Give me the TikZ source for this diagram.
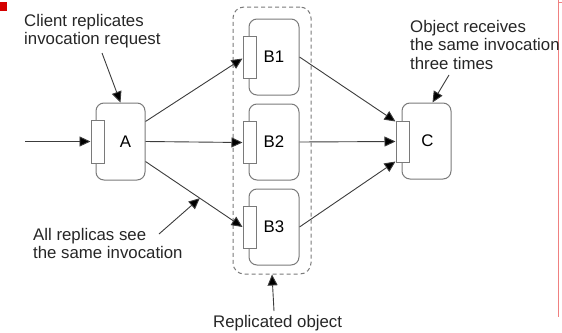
\documentclass[tikz,border=0pt]{standalone}
\usepackage{fontspec}
\setmainfont{Liberation Sans}
\usetikzlibrary{arrows.meta,calc}

\definecolor{edgegray}{HTML}{7A7A7A}
\definecolor{linegray}{HTML}{3C3C3C}
\definecolor{markred}{HTML}{D40000}
\definecolor{rulered}{HTML}{F08080}

\tikzset{
  objbox/.style={draw=edgegray, line width=1pt, rounded corners=8pt, fill=white,
    minimum width=#1, minimum height=76pt, inner sep=0pt,
    font=\fontsize{16.8}{18.8}\selectfont},
  objbox/.default=50pt,
  portbox/.style={draw=edgegray, line width=1pt, fill=white, inner sep=0pt,
    minimum width=13pt, minimum height=42pt},
  groupbox/.style={draw=edgegray, line width=1pt, dashed, dash pattern=on 4pt off 3pt,
    rounded corners=11pt},
  flow/.style={draw=linegray, line width=0.9pt,
    -{Triangle[length=11pt,width=10pt,fill=black]}},
  note/.style={inner sep=0pt, align=left, text=black!85,
    font=\fontsize{16.8}{18.6}\selectfont},
}

\begin{document}
\begin{tikzpicture}[x=1pt, y=-1pt]
  \useasboundingbox (0,0) rectangle (562,332);

  % page marks
  \fill[markred] (0,2) rectangle (7,11);
  \draw[rulered, line width=1.6pt] (558.3,0) -- (558.3,317);
  \draw[rulered, line width=1pt] (558.3,2) -- (562,2);

  % replica group outline
  \node[groupbox, minimum width=78pt, minimum height=267pt] (grp) at (272,140.5) {};

  % client object
  \node[objbox=49pt, minimum height=77pt] (A) at (120.5,141.5) {\hspace{10pt}A};
  \node[portbox, minimum height=43pt] (pA) at (97.5,141.5) {};

  % replicas
  \node[objbox] (B1) at (274,57) {B1};
  \node[portbox] (pB1) at (249.5,57.5) {};
  \node[objbox] (B2) at (274,142) {B2};
  \node[portbox] (pB2) at (249.5,142.5) {};
  \node[objbox] (B3) at (274,227) {B3};
  \node[portbox] (pB3) at (249.5,227) {};

  % receiving object
  \node[objbox=49pt] (C) at (426.5,141) {\hspace{2pt}C};
  \node[portbox, minimum height=41pt] (pC) at (402.5,141.5) {};

  % invocation flow
  \coordinate (src) at (25,141.5);
  \draw[flow] (src) -- (pA.west);
  \draw[flow] ([yshift=20pt]A.east) -- ([yshift=-1pt]pB1.west);
  \draw[flow] (A.east) -- (pB2.west);
  \draw[flow] ([yshift=-20pt]A.east) -- coordinate[pos=0.56] (mid) (pB3.west);
  \draw[flow] (B1.east) -- ([yshift=20pt]pC.west);
  \draw[flow] (B2.east) -- (pC.west);
  \draw[flow] (B3.east) -- ([yshift=-20pt]pC.west);

  % annotations
  \node[note, anchor=north west] (n1) at (24,14) {Client replicates\\invocation request};
  \coordinate (n1tail) at (102,53);
  \draw[flow] (n1tail) -- (A.north);

  \node[note, anchor=north west] (n2) at (410,20) {Object receives\\the same invocation\\three times};
  \coordinate (n2tail) at (449,75);
  \draw[flow] (n2tail) -- ([xshift=6pt]C.north);

  \node[note, anchor=north west] (n3) at (33,228) {All replicas see\\the same invocation};
  \coordinate (n3tail) at (159,234);
  \draw[flow] (n3tail) -- (mid);

  \node[note, anchor=base west] (n4) at (213,327.5) {Replicated object};
  \coordinate (n4tail) at (274,311);
  \draw[flow] (n4tail) -- (grp.south);
\end{tikzpicture}
\end{document}
